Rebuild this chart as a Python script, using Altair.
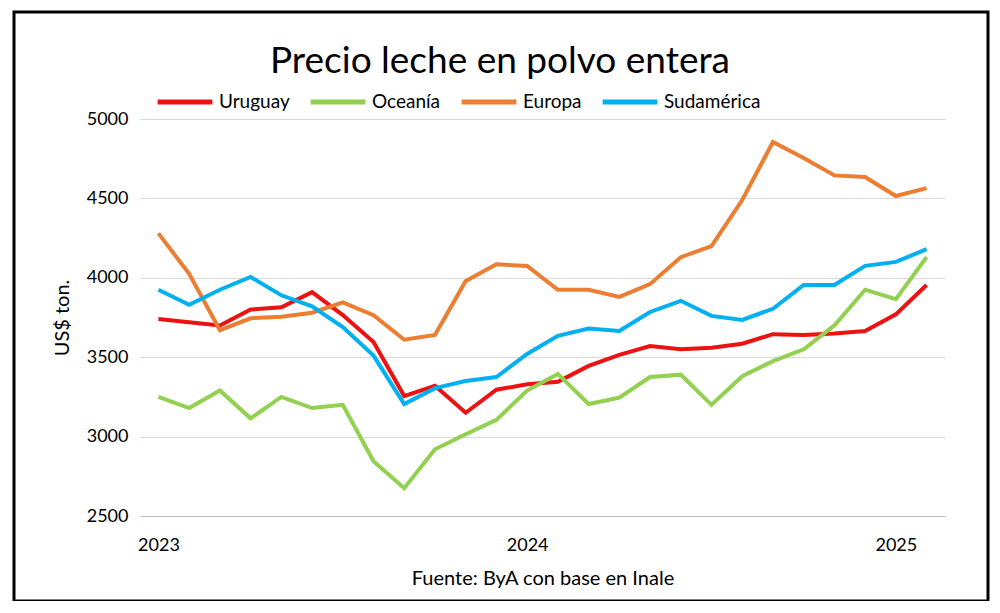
import altair as alt
import pandas as pd

months = list(range(26))
uruguay = [3740,3720,3700,3800,3815,3910,3765,3595,3255,3320,3150,3295,3330,3345,3445,3515,3570,3550,3560,3585,3645,3640,3650,3665,3770,3955]
oceania = [3250,3180,3290,3115,3250,3180,3200,2845,2675,2920,3015,3105,3290,3395,3205,3245,3375,3390,3200,3380,3475,3550,3700,3925,3865,4130]
europa = [4280,4025,3670,3745,3755,3780,3845,3765,3610,3640,3980,4085,4075,3925,3925,3880,3960,4130,4200,4490,4855,4755,4645,4635,4515,4565]
sudamerica = [3925,3830,3925,4005,3890,3820,3690,3510,3205,3305,3350,3375,3520,3635,3680,3665,3785,3855,3760,3735,3805,3955,3955,4075,4100,4180]
series = ["Uruguay", "Oceanía", "Europa", "Sudamérica"]
colors = ["#EE1111", "#92D050", "#ED7D31", "#00B0F0"]
title_text = "Precio leche en polvo entera"

rows = []
for name, vals in zip(series, [uruguay, oceania, europa, sudamerica]):
    for m, v in zip(months, vals):
        rows.append({"m": m, "v": v, "s": name})
df = pd.DataFrame(rows)

W, H = 805, 397
font = "Lato"

lines = alt.Chart(df).mark_line(strokeWidth=4).encode(
    x=alt.X("m:Q", scale=alt.Scale(domain=[-0.6, 25.6], nice=False),
            axis=alt.Axis(values=[0, 12, 24], labelExpr="datum.value==0?'2023':datum.value==12?'2024':'2025'",
                          grid=False, ticks=False, domainColor="#bfbfbf", labelFontSize=18, labelColor="black",
                          labelFont=font, title="Fuente: ByA con base en Inale", titleFontSize=20,
                          titleFont=font, titleFontWeight="normal", titlePadding=14, labelPadding=20)),
    y=alt.Y("v:Q", scale=alt.Scale(domain=[2500, 5000], nice=False),
            axis=alt.Axis(values=[2500,3000,3500,4000,4500,5000], format="d", grid=True, gridColor="#d9d9d9", ticks=False,
                          domain=False, labelFontSize=18, labelColor="black", labelFont=font,
                          title="US$ ton.", titleFontSize=20, titleFont=font, titleFontWeight="normal",
                          titlePadding=14, labelPadding=12)),
    color=alt.Color("s:N", scale=alt.Scale(domain=series, range=colors), sort=series,
                    legend=alt.Legend(title=None, orient="none", legendX=15, legendY=-47, direction="horizontal",
                                      symbolType="stroke", symbolStrokeWidth=5, symbolSize=3000,
                                      labelFontSize=19, labelFont=font, columnPadding=10, labelColor="black")),
)

frame = alt.Chart(pd.DataFrame({"a": [0]})).mark_rect(filled=False, stroke="black", strokeWidth=3).encode(
    x=alt.value(-126), x2=alt.value(848), y=alt.value(-107), y2=alt.value(482)
)

title = alt.Chart(pd.DataFrame({"t": [title_text]})).mark_text(
    fontSize=37, font=font, color="black", align="center", baseline="middle"
).encode(text="t:N", x=alt.value(360), y=alt.value(-57))

chart = alt.layer(lines, frame, title).properties(
    width=W, height=H,
    autosize=alt.AutoSizeParams(type="none"),
    padding={"left": 132, "top": 111, "right": 45, "bottom": 85},
).configure_view(stroke=None)

chart.save("out.html", embed_options={"renderer": "svg", "actions": False})
